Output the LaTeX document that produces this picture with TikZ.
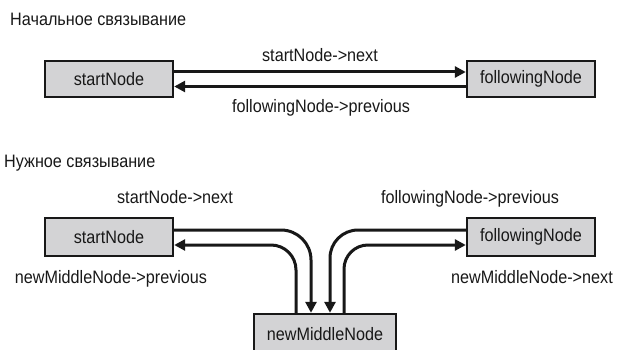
\documentclass[tikz,border=0pt]{standalone}
\usepackage{fontspec}
\setmainfont{Liberation Sans}[FakeStretch=0.9]
\usetikzlibrary{arrows.meta}
\definecolor{boxfill}{RGB}{211,211,213}
\definecolor{ink}{RGB}{24,24,24}
\tikzset{
  lbl/.style={font=\fontsize{18}{20}\selectfont, text=ink, inner sep=0pt},
  ttl/.style={font=\fontsize{18}{20}\selectfont, text=ink, inner sep=0pt, anchor=base west},
  listnode/.style={draw=ink, fill=boxfill, line width=2.4pt, minimum width=128pt, minimum height=36pt, inner sep=0pt, font=\fontsize{18}{20}\selectfont, text=ink},
  conn/.style={draw=ink, line width=3pt, -{Triangle[length=11pt,width=11pt]}}
}
\begin{document}
\begin{tikzpicture}[x=1pt,y=-1pt]
\useasboundingbox (0,0) rectangle (618,350);
% titles
\node[ttl] (t1) at (10,26) {Начальное связывание};
\node[ttl] (t2) at (4,167) {Нужное связывание};
% top part
\node[listnode] (s1) at (109,79) {startNode};
\node[listnode] (f1) at (531,79) {followingNode};
\draw[conn] ([yshift=7pt]s1.east) -- ([yshift=7pt]f1.west);
\draw[conn] ([yshift=-7.5pt]f1.west) -- ([yshift=-7.5pt]s1.east);
\node[lbl, anchor=base] (l1) at (320,62) {startNode->next};
\node[lbl, anchor=base] (l2) at (321,113) {followingNode->previous};
% bottom part
\node[listnode, minimum height=38pt] (s2) at (109,237) {startNode};
\node[listnode, minimum height=38pt] (f2) at (531,237) {followingNode};
\node[listnode, minimum width=142pt, minimum height=40pt] (m) at (325,334) {newMiddleNode};
\draw[conn, rounded corners=30pt] ([yshift=7pt]s2.east) -| ([xshift=-14pt]m.north);
\draw[conn, rounded corners=25pt] ([xshift=-29pt]m.north) |- ([yshift=-8pt]s2.east);
\draw[conn, rounded corners=28pt] ([yshift=7pt]f2.west) -| ([xshift=5pt]m.north);
\draw[conn, rounded corners=24pt] ([xshift=19pt]m.north) |- ([yshift=-8pt]f2.west);
\node[lbl, anchor=base] (l3) at (175,203) {startNode->next};
\node[lbl, anchor=base] (l4) at (111,283) {newMiddleNode->previous};
\node[lbl, anchor=base] (l5) at (470,203) {followingNode->previous};
\node[lbl, anchor=base] (l6) at (532,283) {newMiddleNode->next};
\end{tikzpicture}
\end{document}
